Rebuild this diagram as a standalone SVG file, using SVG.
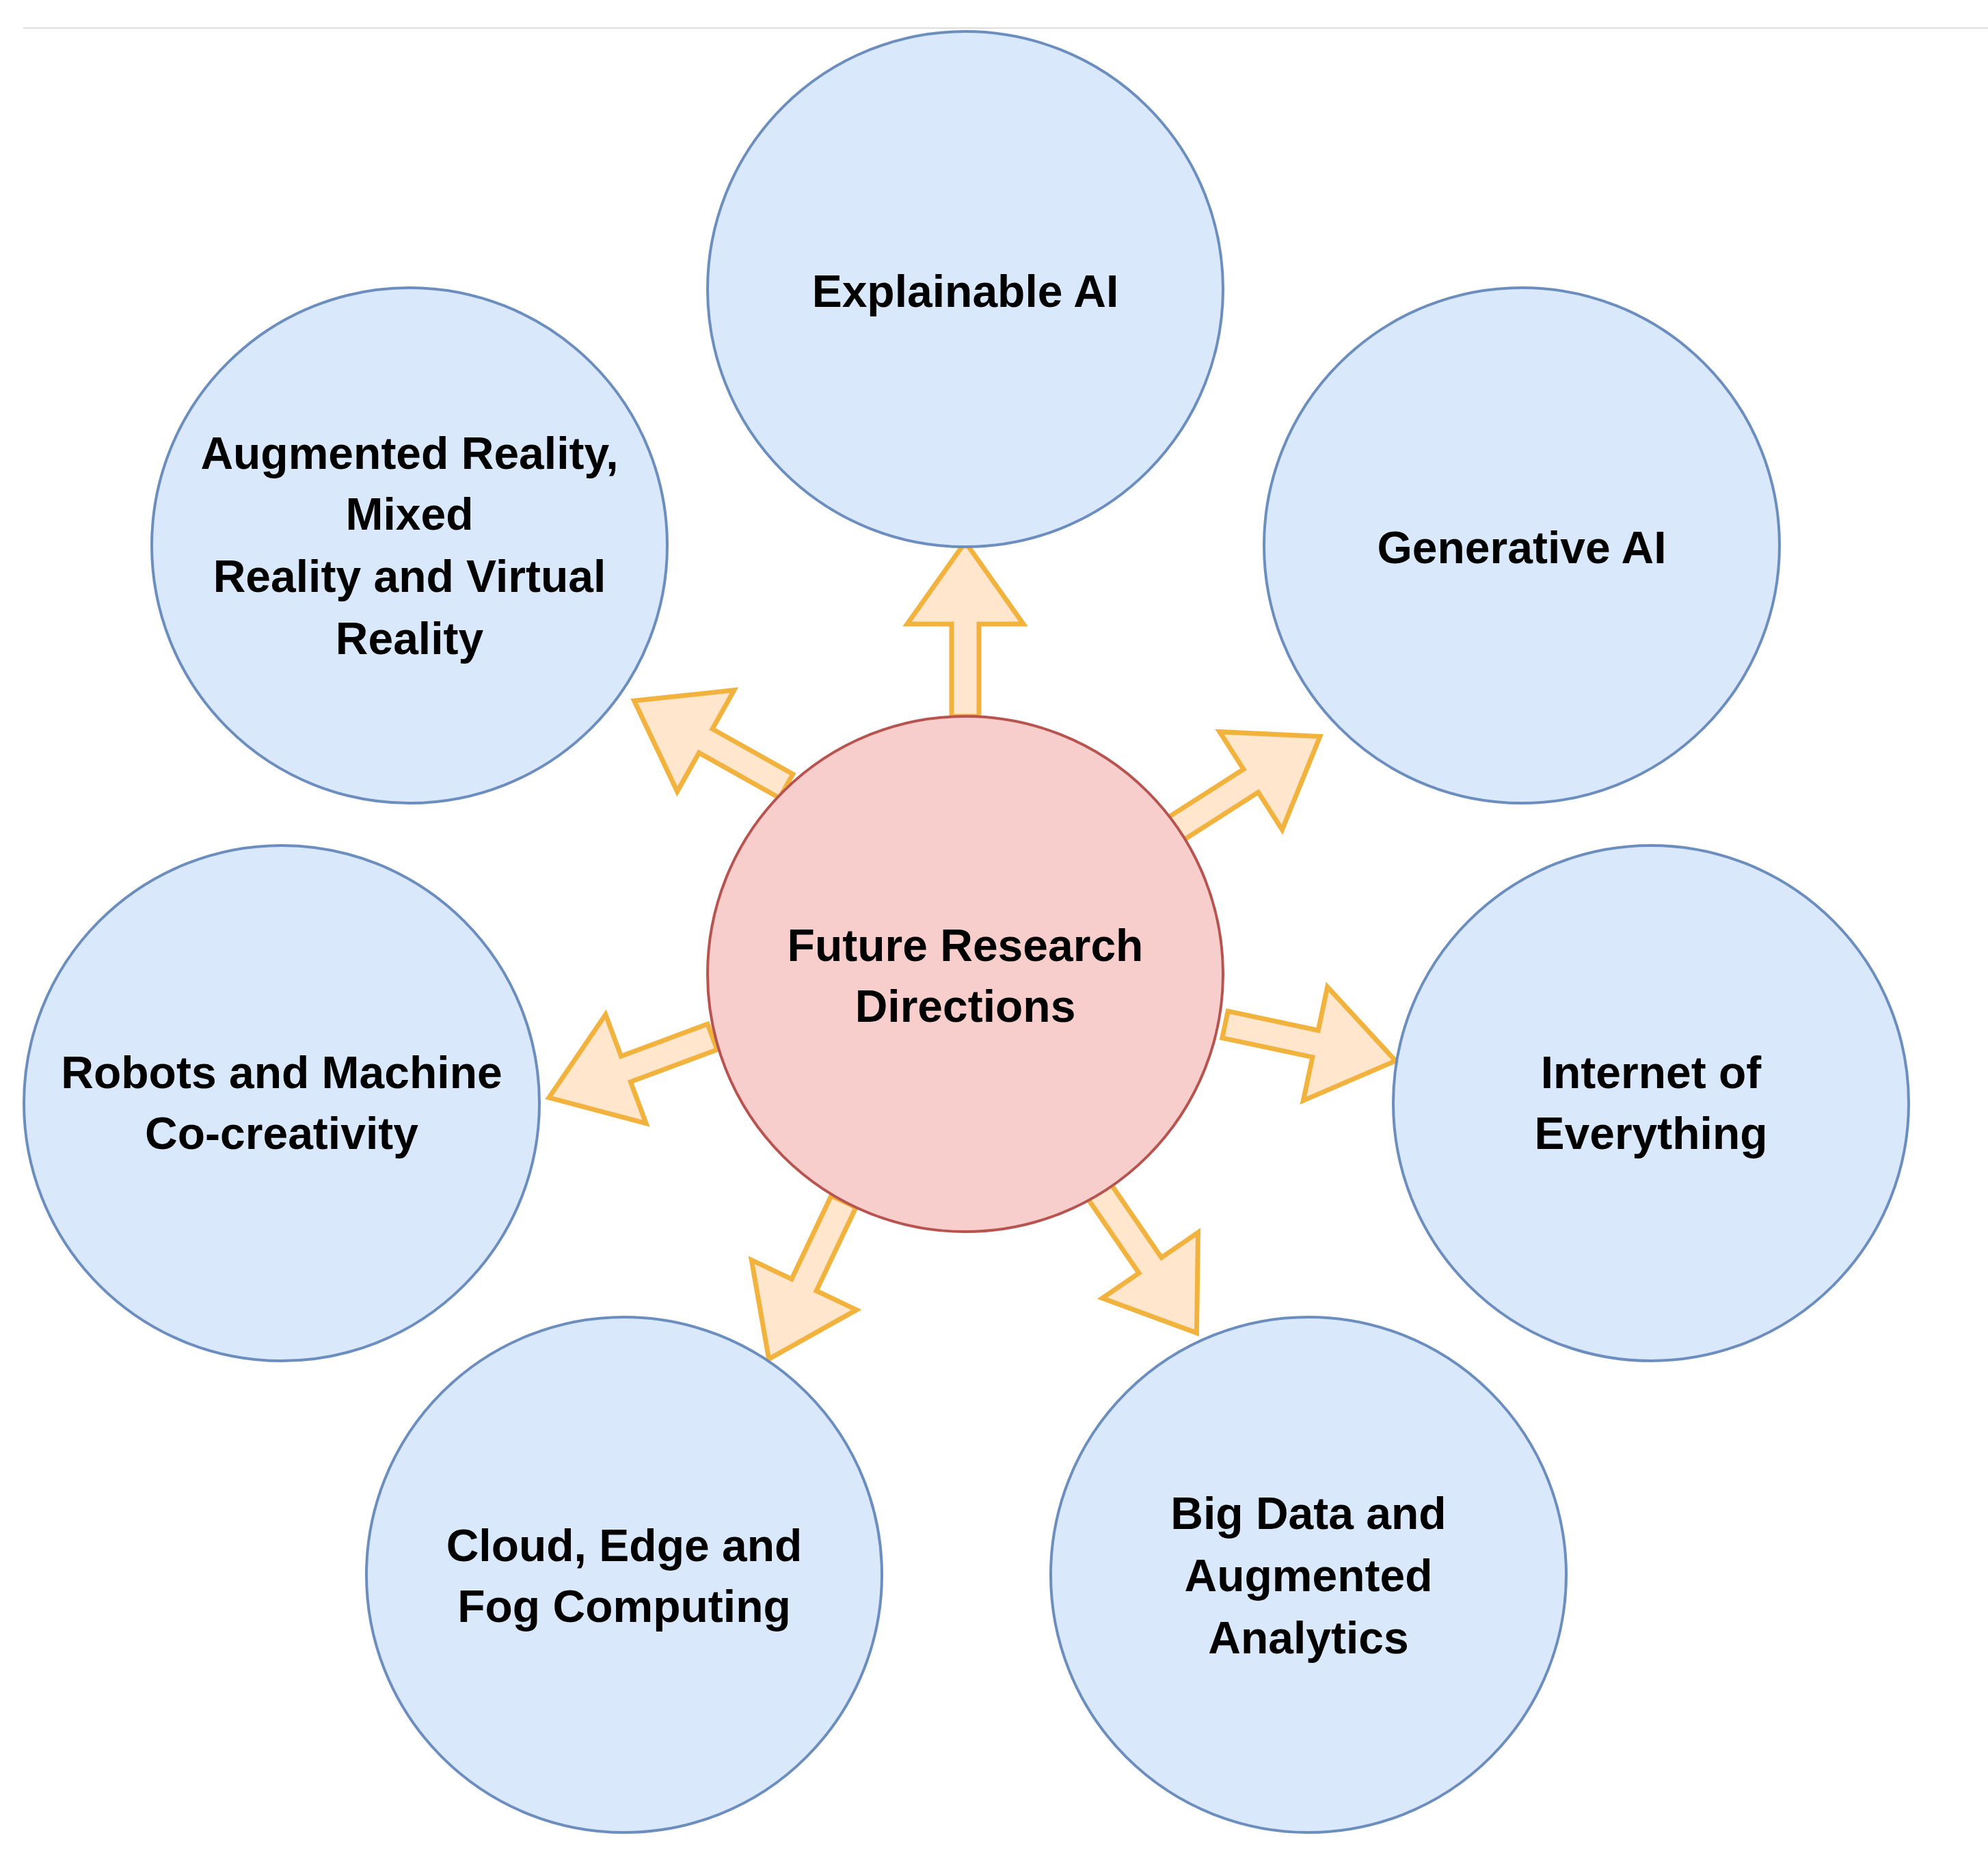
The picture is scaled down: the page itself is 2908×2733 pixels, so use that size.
<svg xmlns="http://www.w3.org/2000/svg" width="2908" height="2733" viewBox="0 0 2908 2733">
<style>
.n{fill:#dae8fc;stroke:#6c8ebf;stroke-width:4}
.c{fill:#f8cecc;stroke:#b85450;stroke-width:4}
.a{fill:#ffe6cc;stroke:#f2b23e;stroke-width:7;stroke-linejoin:miter}
text{font-family:"Liberation Sans",Arial,sans-serif;font-weight:bold;font-size:66px;text-anchor:middle;fill:#000}
</style>
<defs><path id="arr" d="M0,-20 L135,-20 L135,-85 L255,0 L135,85 L135,20 L0,20 Z"/></defs>
<rect width="2908" height="2733" fill="#fff"/>
<line x1="34" y1="41" x2="2908" y2="41" stroke="#ddd" stroke-width="2"/>
<g id="connectors">
<use href="#arr" class="a" transform="translate(1412,1048) rotate(-90)"/>
<use href="#arr" class="a" transform="translate(1716,1215) rotate(-32.6)"/>
<use href="#arr" class="a" transform="translate(1150,1150) rotate(-150.7)"/>
<use href="#arr" class="a" transform="translate(1042,1517) rotate(159.6)"/>
<use href="#arr" class="a" transform="translate(1792,1499) rotate(12)"/>
<use href="#arr" class="a" transform="translate(1234,1758) rotate(115.4)"/>
<use href="#arr" class="a" transform="translate(1606,1740) rotate(55.5)"/>
</g>
<g id="center"><circle class="c" cx="1412" cy="1425" r="377"/><text x="1412" y="1406">Future Research</text><text x="1412" y="1495">Directions</text></g>
<g id="explainable"><circle class="n" cx="1412" cy="423" r="377"/><text x="1412" y="449">Explainable AI</text></g>
<g id="generative"><circle class="n" cx="2226" cy="798" r="377"/><text x="2226" y="824">Generative AI</text></g>
<g id="augmented"><circle class="n" cx="599" cy="798" r="377"/><text x="599" y="686">Augmented Reality,</text><text x="599" y="775">Mixed</text><text x="599" y="866">Reality and Virtual</text><text x="599" y="957">Reality</text></g>
<g id="robots"><circle class="n" cx="412" cy="1614" r="377"/><text x="412" y="1592">Robots and Machine</text><text x="412" y="1681">Co-creativity</text></g>
<g id="internet"><circle class="n" cx="2415" cy="1614" r="377"/><text x="2415" y="1592">Internet of</text><text x="2415" y="1681">Everything</text></g>
<g id="cloud"><circle class="n" cx="913" cy="2304" r="377"/><text x="913" y="2284">Cloud, Edge and</text><text x="913" y="2373">Fog Computing</text></g>
<g id="bigdata"><circle class="n" cx="1914" cy="2304" r="377"/><text x="1914" y="2237">Big Data and</text><text x="1914" y="2328">Augmented</text><text x="1914" y="2419">Analytics</text></g>
</svg>
